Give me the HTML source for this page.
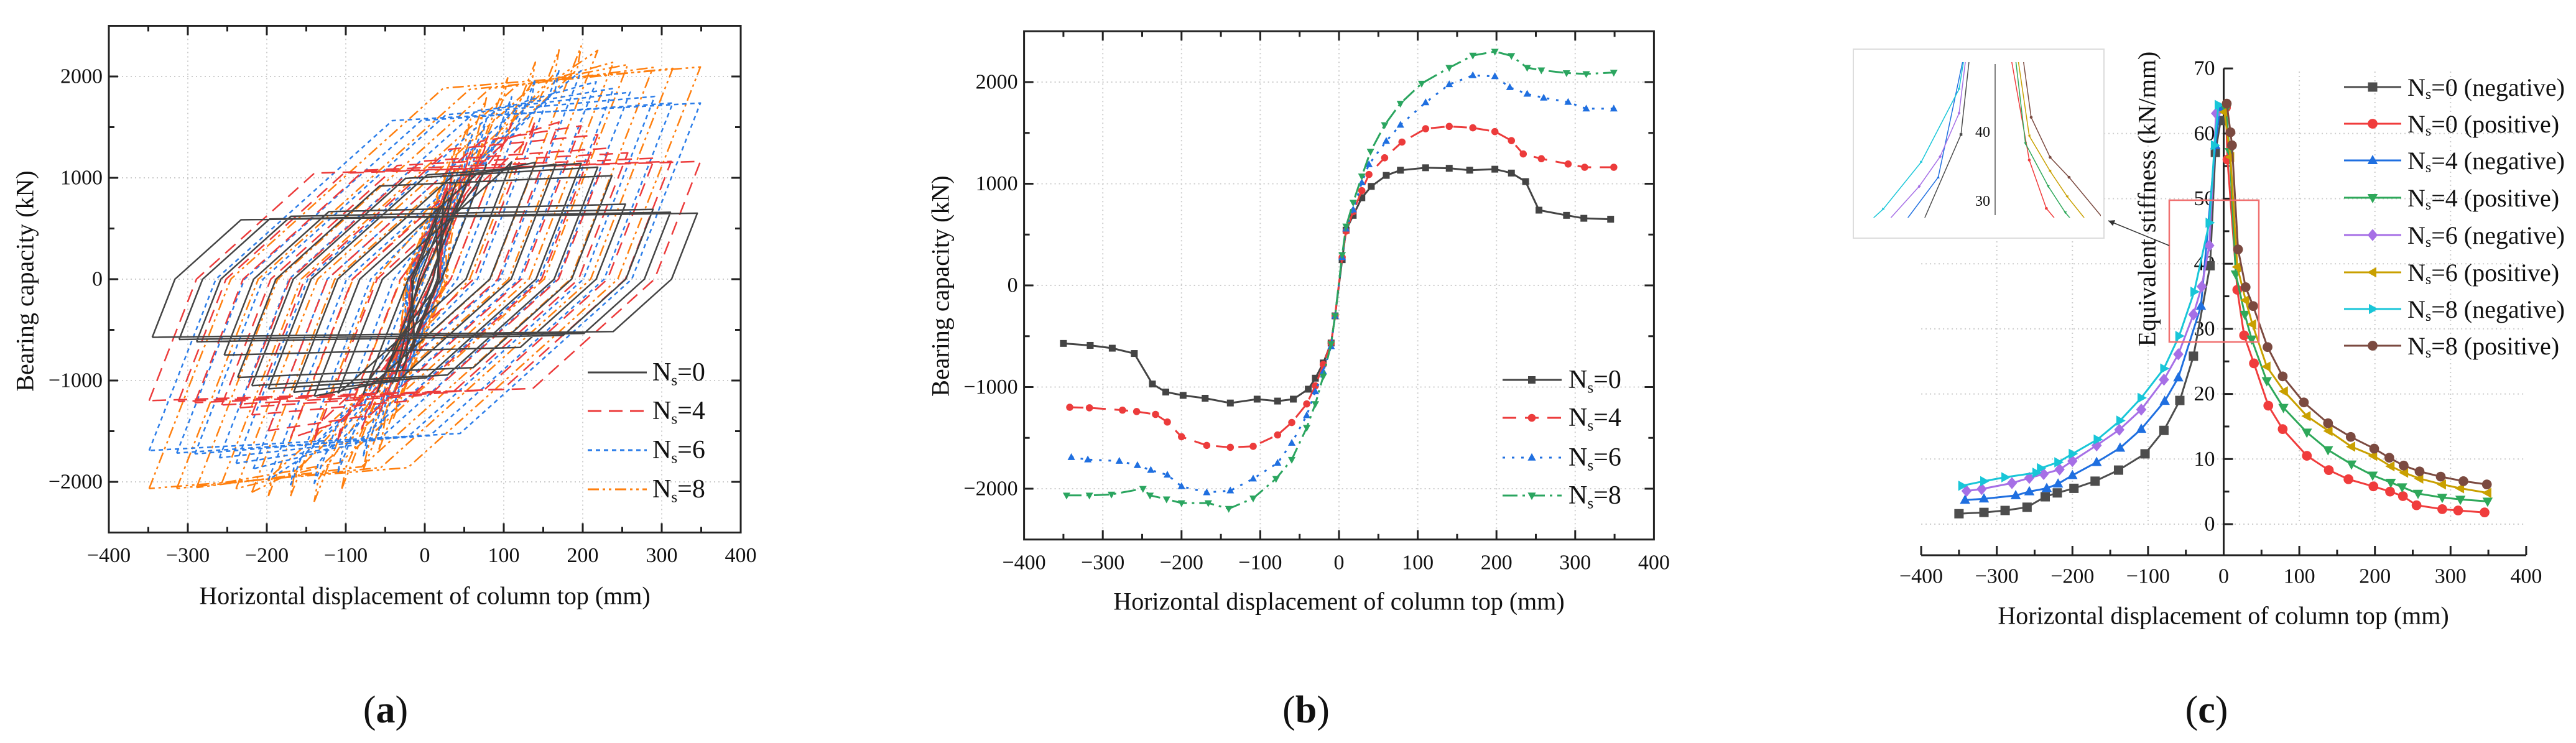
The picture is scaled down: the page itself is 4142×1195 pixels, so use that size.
<!DOCTYPE html>
<html><head><meta charset="utf-8">
<style>
html,body{margin:0;padding:0;background:#fff;}
svg{display:block;font-family:"Liberation Serif",serif;}
</style></head>
<body>
<svg id="fig" width="4142" height="1195" viewBox="0 0 4142 1195" xmlns="http://www.w3.org/2000/svg">
<rect x="0" y="0" width="4142" height="1195" fill="#fff"/>
<defs>
<clipPath id="insetClip"><rect x="2985" y="100" width="393" height="250"/></clipPath>
<marker id="arrowHead" markerWidth="12" markerHeight="12" refX="10" refY="5" orient="auto" markerUnits="userSpaceOnUse"><path d="M0,0 L10,5 L0,10 z" fill="#333"/></marker>
</defs>
</svg>
<script>
// ---------- Panel (b) data: skeleton curves ----------
const b0x=[-350,-316,-288,-260,-237,-220,-198,-170,-138,-104,-78,-58,-39,-30,-20,-10,-5,4,9,18,29,41,60,78,110,140,166,198,219,237,254,289,311,345];
const b0y=[-571,-590,-618,-670,-970,-1049,-1082,-1110,-1157,-1119,-1138,-1119,-1021,-913,-763,-567,-300,253,543,689,862,974,1082,1133,1157,1152,1133,1143,1105,1021,740,689,660,651];
const b4x=[-342,-317,-275,-257,-233,-218,-200,-168,-138,-109,-78,-60,-41,-30,-20,-10,-5,4,9,18,29,38,58,80,110,140,170,198,219,234,257,291,312,349];
const b4y=[-1199,-1204,-1227,-1241,-1269,-1344,-1489,-1574,-1593,-1583,-1471,-1349,-1166,-988,-778,-567,-300,276,534,726,932,1091,1255,1410,1541,1564,1550,1513,1424,1293,1246,1194,1162,1162];
const b6x=[-340,-319,-279,-256,-239,-218,-200,-168,-138,-109,-78,-60,-41,-30,-20,-10,-5,4,9,18,29,38,60,78,110,140,170,198,217,239,260,291,314,349];
const b6y=[-1691,-1714,-1728,-1770,-1817,-1864,-1977,-2037,-2019,-1902,-1747,-1550,-1279,-1044,-848,-600,-300,276,557,745,1012,1190,1419,1578,1799,1977,2066,2056,1948,1883,1845,1803,1738,1738];
const b8x=[-346,-317,-289,-249,-240,-219,-200,-166,-140,-109,-80,-60,-41,-30,-20,-10,-5,4,9,18,29,40,58,78,105,140,170,198,219,239,257,289,314,349];
const b8y=[-2066,-2066,-2056,-2000,-2066,-2103,-2141,-2141,-2197,-2094,-1902,-1714,-1400,-1166,-895,-576,-300,300,581,815,1073,1316,1578,1789,1986,2141,2262,2300,2258,2141,2117,2089,2080,2094];
// ---------- Panel (c) data: equivalent stiffness ----------
const c0nx=[-350,-317,-289,-260,-236,-220,-198,-170,-139,-104,-79,-58,-40,-18,-11,-4];
const c0ny=[1.6,1.8,2.1,2.6,4.2,4.8,5.5,6.6,8.3,10.8,14.4,19.0,25.8,39.7,57.1,62];
const c0px=[3,5,18,27,40,59,78,110,139,165,198,220,237,255,289,310,345];
const c0py=[64,56,36,29,24.7,18.2,14.6,10.5,8.3,6.9,5.8,5.0,4.3,2.9,2.3,2.1,1.8];
const c4nx=[-342,-317,-275,-257,-234,-219,-200,-168,-137,-109,-78,-60,-30,-11,-5];
const c4ny=[3.7,3.9,4.4,5.0,5.5,6.2,7.5,9.5,11.7,14.6,18.9,22.5,33.5,58.2,64];
const c4px=[3,8,16,28,37,57,79,110,138,169,197,221,236,257,289,313,349];
const c4py=[63.7,57.2,38.4,32.2,28.4,22,17.9,14.1,11.4,9.2,7.5,6.4,5.7,4.7,4.1,3.8,3.5];
const c6nx=[-340,-320,-280,-257,-238,-217,-200,-168,-138,-109,-79,-60,-40,-29,-19,-10];
const c6ny=[5.1,5.4,6.3,7.1,7.7,8.4,9.7,12.1,14.5,17.6,22.2,26.1,32.2,36.5,42.8,63.1];
const c6px=[1,9,18,29,38,57,80,110,139,169,198,221,239,259,289,313,349];
const c6py=[63.3,56.4,39.5,34.4,30.7,24.2,20.4,16.6,14.3,11.9,10.5,8.9,7.9,7.0,6.1,5.5,4.8];
const c8nx=[-346,-317,-289,-248,-242,-219,-200,-167,-137,-109,-79,-59,-39,-19,-12,-7];
const c8ny=[5.9,6.6,7.2,7.9,8.6,9.5,10.8,13,15.9,19.4,23.9,28.9,35.7,46.3,58.2,64.4];
const c8px=[4,9,11,19,29,39,58,78,106,138,168,199,219,238,259,287,317,348];
const c8py=[64.6,60.2,58.2,42.2,36.4,33.5,27.2,22.7,18.7,15.5,13.4,11.6,10.2,9.0,8.1,7.3,6.6,6.1];
// ---------- ticks ----------
const xTicks=[-400,-300,-200,-100,0,100,200,300,400];
const yTicksAB=[-2000,-1000,0,1000,2000];
const yTicksC=[0,10,20,30,40,50,60,70];

const NS='http://www.w3.org/2000/svg';
const svg=document.getElementById('fig');
function mk(tag,attrs,parent){const el=document.createElementNS(NS,tag);for(const k in attrs)el.setAttribute(k,attrs[k]);(parent||svg).appendChild(el);return el;}
function fmt(v){return v<0?'\u2212'+Math.abs(v):String(v);}

const xa=v=>175+(v+400)*1.27, ya=v=>449-v*0.163;
const xb=v=>2153+v*1.266, yb=v=>459-v*0.1635;
const xc=v=>3575.5+v*1.216, yc=v=>843-v*10.47;
const xi=v=>3208+v*3.05, yi=v=>213-(v-40)*11.1;

function marker(g,type,x,y,s,color){
  let el;
  if(type==='sq') el=mk('rect',{x:x-s,y:y-s,width:2*s,height:2*s,fill:color},g);
  else if(type==='ci') el=mk('circle',{cx:x,cy:y,r:s*1.05,fill:color},g);
  else {
    let p;
    if(type==='tu') p=[[x,y-s*1.2],[x+s*1.1,y+s*0.8],[x-s*1.1,y+s*0.8]];
    else if(type==='td') p=[[x,y+s*1.2],[x+s*1.1,y-s*0.8],[x-s*1.1,y-s*0.8]];
    else if(type==='tl') p=[[x-s*1.2,y],[x+s*0.8,y-s*1.1],[x+s*0.8,y+s*1.1]];
    else if(type==='tr') p=[[x+s*1.2,y],[x-s*0.8,y-s*1.1],[x-s*0.8,y+s*1.1]];
    else p=[[x,y-s*1.3],[x+s*1.1,y],[x,y+s*1.3],[x-s*1.1,y]];
    el=mk('polygon',{points:p.map(q=>q.join(',')).join(' '),fill:color},g);
  }
  
  
}
function legendLabel(g,x,y,main,suffix,size){
  const t=mk('text',{x:x,y:y,'font-size':size,fill:'#111','dominant-baseline':'central'},g);
  
  
  const a=document.createElementNS(NS,'tspan');a.textContent=main;t.appendChild(a);
  const s=document.createElementNS(NS,'tspan');s.setAttribute('font-size',size*0.6);s.setAttribute('dy',size*0.3);s.textContent='s';t.appendChild(s);
  const c=document.createElementNS(NS,'tspan');c.setAttribute('dy',-size*0.3);c.textContent=suffix;t.appendChild(c);
}
function text(x,y,str,size,anchor,name,rot){
  const t=mk('text',{x:x,y:y,'font-size':size,fill:'#111','text-anchor':anchor||'middle','dominant-baseline':'central'});
  if(rot) t.setAttribute('transform','rotate(-90 '+x+' '+y+')');
  t.textContent=str;
  
  
  return t;
}
function panelLabel(x,y,l,name){
  const t=mk('text',{x:x,y:y,'font-size':62,fill:'#111','text-anchor':'middle','dominant-baseline':'central'});
  
  
  const a=document.createElementNS(NS,'tspan');a.textContent='(';t.appendChild(a);
  const b=document.createElementNS(NS,'tspan');b.setAttribute('font-weight','bold');b.textContent=l;t.appendChild(b);
  const c=document.createElementNS(NS,'tspan');c.textContent=')';t.appendChild(c);
}

function boxAxes(X,Y,name){
  const g=mk('g',{});
  
  
  const L=X(-400),R=X(400),T=Y(2500),B=Y(-2500);
  xTicks.slice(1,-1).forEach(v=>{const l=mk('line',{x1:X(v),x2:X(v),y1:T,y2:B,stroke:'#ccc','stroke-width':2,'stroke-dasharray':'2 5'},g);
    
    });
  yTicksAB.forEach(v=>{const l=mk('line',{x1:L,x2:R,y1:Y(v),y2:Y(v),stroke:'#ccc','stroke-width':2,'stroke-dasharray':'2 5'},g);
    
    });
  for(let v=-350;v<=350;v+=50){const len=(v%100===0)?15:9;
    const t1=mk('line',{x1:X(v),x2:X(v),y1:B,y2:B-len,stroke:'#222','stroke-width':3},g);
    
    
    const t2=mk('line',{x1:X(v),x2:X(v),y1:T,y2:T+len,stroke:'#222','stroke-width':3},g);
    
    }
  for(let v=-2000;v<=2000;v+=500){const len=(v%1000===0)?15:9;
    const t1=mk('line',{x1:L,x2:L+len,y1:Y(v),y2:Y(v),stroke:'#222','stroke-width':3},g);
    
    
    const t2=mk('line',{x1:R,x2:R-len,y1:Y(v),y2:Y(v),stroke:'#222','stroke-width':3},g);
    
    }
  const r=mk('rect',{x:L,y:T,width:R-L,height:B-T,fill:'none',stroke:'#222','stroke-width':3},g);
  
  
  xTicks.forEach(v=>text(X(v),B+37,fmt(v),34,'middle','x-tick-label'));
  yTicksAB.forEach(v=>text(L-10,Y(v),fmt(v),34,'end','y-tick-label'));
}
boxAxes(xa,ya,'axes-a');
boxAxes(xb,yb,'axes-b');

// ---------- Panel (a) hysteresis loops built from skeleton data ----------
function interp(xs,ys,x){for(let i=0;i<xs.length-1;i++){if(x>=xs[i]&&x<=xs[i+1]){const t=(x-xs[i])/(xs[i+1]-xs[i]);return ys[i]+t*(ys[i+1]-ys[i]);}}return x<xs[0]?ys[0]:ys[ys.length-1];}
const hystSeries=[
 {xs:b8x,ys:b8y,color:'#ff7f0e',dash:'18 6 4 6 4 6',name:'hysteresis-ns8'},
 {xs:b6x,ys:b6y,color:'#2b7de9',dash:'7 6',name:'hysteresis-ns6'},
 {xs:b4x,ys:b4y,color:'#ec3b3b',dash:'22 12',name:'hysteresis-ns4'},
 {xs:b0x,ys:b0y,color:'#444',dash:'',name:'hysteresis-ns0'}];
const kUnload=20, kReload=7;
hystSeries.forEach(s=>{
  let d='';
  s.xs.forEach((xp,i)=>{
    if(xp<15) return;
    const yp=s.ys[i];
    const xn=-xp, yn=interp(s.xs,s.ys,xn);
    const z1=xn-yn/kUnload;
    const r1=Math.min(z1+yp*0.9/kReload,xp-5);
    const z2=xp-yp/kUnload;
    const r2=Math.max(z2+yn*0.9/kReload,xn+5);
    const p=[[xn,yn],[z1,0],[r1,yp*0.9],[xp,yp],[z2,0],[r2,yn*0.9],[xn,yn]];
    d+='M'+p.map(q=>xa(q[0]).toFixed(1)+','+ya(q[1]).toFixed(1)).join(' L');
  });
  const path=mk('path',{d:d,fill:'none',stroke:s.color,'stroke-width':2.5,'stroke-dasharray':s.dash||'none','stroke-linejoin':'round'});
  
  
});
const legA=[['#444','','=0'],['#ec3b3b','22 12','=4'],['#2b7de9','7 6','=6'],['#ff7f0e','18 6 4 6 4 6','=8']];
const legAy=[599,661,724,787];
legA.forEach((e,i)=>{
  const g=mk('g',{});
  
  
  const l=mk('line',{x1:945,x2:1040,y1:legAy[i],y2:legAy[i],stroke:e[0],'stroke-width':3,'stroke-dasharray':e[1]||'none'},g);
  
  
  legendLabel(g,1049,legAy[i],'N',e[2],42);
});
text(683,958,'Horizontal displacement of column top (mm)',40,'middle','x-axis-title-a');
text(40,452,'Bearing capacity (kN)',40,'middle','y-axis-title-a',true);
panelLabel(620,1142,'a','panel-label-a');

// ---------- Panel (b) ----------
const skel=[
 {xs:b0x,ys:b0y,color:'#444',dash:'',m:'sq',name:'skeleton-ns0'},
 {xs:b4x,ys:b4y,color:'#ec3b3b',dash:'22 14',m:'ci',name:'skeleton-ns4'},
 {xs:b6x,ys:b6y,color:'#1f6fe0',dash:'4 11',m:'tu',name:'skeleton-ns6'},
 {xs:b8x,ys:b8y,color:'#2aa55f',dash:'24 8 4 8',m:'td',name:'skeleton-ns8'}];
skel.forEach(s=>{
  const g=mk('g',{});
  
  
  const pl=mk('polyline',{points:s.xs.map((x,i)=>xb(x).toFixed(1)+','+yb(s.ys[i]).toFixed(1)).join(' '),fill:'none',stroke:s.color,'stroke-width':3,'stroke-dasharray':s.dash||'none'},g);
  
  
  s.xs.forEach((x,i)=>marker(g,s.m,xb(x),yb(s.ys[i]),5.5,s.color));
});
const legBy=[611,672,736,797];
skel.forEach((s,i)=>{
  const g=mk('g',{});
  
  
  const l=mk('line',{x1:2416,x2:2511,y1:legBy[i],y2:legBy[i],stroke:s.color,'stroke-width':3,'stroke-dasharray':s.dash||'none'},g);
  
  
  marker(g,s.m,2463,legBy[i],6,s.color);
  legendLabel(g,2522,legBy[i],'N',['=0','=4','=6','=8'][i],42);
});
text(2153,967,'Horizontal displacement of column top (mm)',40,'middle','x-axis-title-b');
text(1512,460,'Bearing capacity (kN)',40,'middle','y-axis-title-b',true);
panelLabel(2100,1142,'b','panel-label-b');

// ---------- Panel (c) ----------
const gC=mk('g',{});


xTicks.slice(1,-1).forEach(v=>{if(v===0)return;const l=mk('line',{x1:xc(v),x2:xc(v),y1:115,y2:yc(0),stroke:'#ccc','stroke-width':2,'stroke-dasharray':'2 5'},gC);
  
  });
yTicksC.slice(0,-1).forEach(v=>{const l=mk('line',{x1:xc(-400),x2:xc(400),y1:yc(v),y2:yc(v),stroke:'#ccc','stroke-width':2,'stroke-dasharray':'2 5'},gC);
  
  });
const xAxisY=893;
const xl=mk('line',{x1:xc(-400),x2:xc(400),y1:xAxisY,y2:xAxisY,stroke:'#222','stroke-width':3},gC);


const yl=mk('line',{x1:xc(0),x2:xc(0),y1:yc(70),y2:xAxisY,stroke:'#222','stroke-width':3},gC);


for(let v=-400;v<=400;v+=50){const len=(v%100===0)?15:9;
  const t=mk('line',{x1:xc(v),x2:xc(v),y1:xAxisY,y2:xAxisY-len,stroke:'#222','stroke-width':3},gC);
  
  }
for(let v=0;v<=70;v+=5){const len=(v%10===0)?15:9;
  const t=mk('line',{x1:xc(0),x2:xc(0)+len,y1:yc(v),y2:yc(v),stroke:'#222','stroke-width':3},gC);
  
  }
xTicks.forEach(v=>text(xc(v),927,fmt(v),34,'middle','x-tick-label'));
yTicksC.forEach(v=>text(xc(0)-14,yc(v),String(v),34,'end','y-tick-label'));

const stiff=[
 {xs:c0nx,ys:c0ny,color:'#4d4d4d',m:'sq',name:'Ns0-negative',lab:'=0 (negative)'},
 {xs:c0px,ys:c0py,color:'#f03c3c',m:'ci',name:'Ns0-positive',lab:'=0 (positive)'},
 {xs:c4nx,ys:c4ny,color:'#1f6fe0',m:'tu',name:'Ns4-negative',lab:'=4 (negative)'},
 {xs:c4px,ys:c4py,color:'#2ea85a',m:'td',name:'Ns4-positive',lab:'=4 (positive)'},
 {xs:c6nx,ys:c6ny,color:'#a66fe6',m:'di',name:'Ns6-negative',lab:'=6 (negative)'},
 {xs:c6px,ys:c6py,color:'#c9a000',m:'tl',name:'Ns6-positive',lab:'=6 (positive)'},
 {xs:c8nx,ys:c8ny,color:'#18c6d8',m:'tr',name:'Ns8-negative',lab:'=8 (negative)'},
 {xs:c8px,ys:c8py,color:'#7b4a40',m:'ci',name:'Ns8-positive',lab:'=8 (positive)'}];
stiff.forEach(s=>{
  const g=mk('g',{});
  
  
  const pl=mk('polyline',{points:s.xs.map((x,i)=>xc(x).toFixed(1)+','+yc(s.ys[i]).toFixed(1)).join(' '),fill:'none',stroke:s.color,'stroke-width':3},g);
  
  
  s.xs.forEach((x,i)=>marker(g,s.m,xc(x),yc(s.ys[i]),7.5,s.color));
});
const legCy=[140,199,258,318,378,438,497,556];
stiff.forEach((s,i)=>{
  const g=mk('g',{});
  
  
  const l=mk('line',{x1:3769,x2:3861,y1:legCy[i],y2:legCy[i],stroke:s.color,'stroke-width':3},g);
  
  
  marker(g,s.m,3815,legCy[i],7.5,s.color);
  legendLabel(g,3871,legCy[i],'N',s.lab,40);
});
const zr=mk('rect',{x:3488,y:322,width:144,height:228,fill:'none',stroke:'#f07070','stroke-width':2.5});


const ar=mk('line',{x1:3488,y1:395,x2:3390,y2:355,stroke:'#333','stroke-width':1.5,'marker-end':'url(#arrowHead)'});


const ins=mk('g',{});


const ib=mk('rect',{x:2980,y:79,width:403,height:304,fill:'#fff',stroke:'#ddd','stroke-width':2},ins);


const ia=mk('line',{x1:3208,x2:3208,y1:103,y2:346,stroke:'#555','stroke-width':1.5},ins);


[40,30].forEach(v=>{const t=mk('text',{x:3200,y:yi(v),'font-size':24,fill:'#111','text-anchor':'end','dominant-baseline':'central'},ins);
  t.textContent=String(v);
  
  });
const ic=mk('g',{'clip-path':'url(#insetClip)'},ins);


stiff.forEach(s=>{
  const pl=mk('polyline',{points:s.xs.map((x,i)=>xi(x).toFixed(1)+','+yi(s.ys[i]).toFixed(1)).join(' '),fill:'none',stroke:s.color,'stroke-width':1.5},ic);
  
  
  s.xs.forEach((x,i)=>marker(ic,s.m,xi(x),yi(s.ys[i]),2.2,s.color));
});
text(3575,990,'Horizontal displacement of column top (mm)',40,'middle','x-axis-title-c');
text(3452,320,'Equivalent stiffness (kN/mm)',40,'middle','y-axis-title-c',true);
panelLabel(3548,1142,'c','panel-label-c');
</script>
</body></html>
